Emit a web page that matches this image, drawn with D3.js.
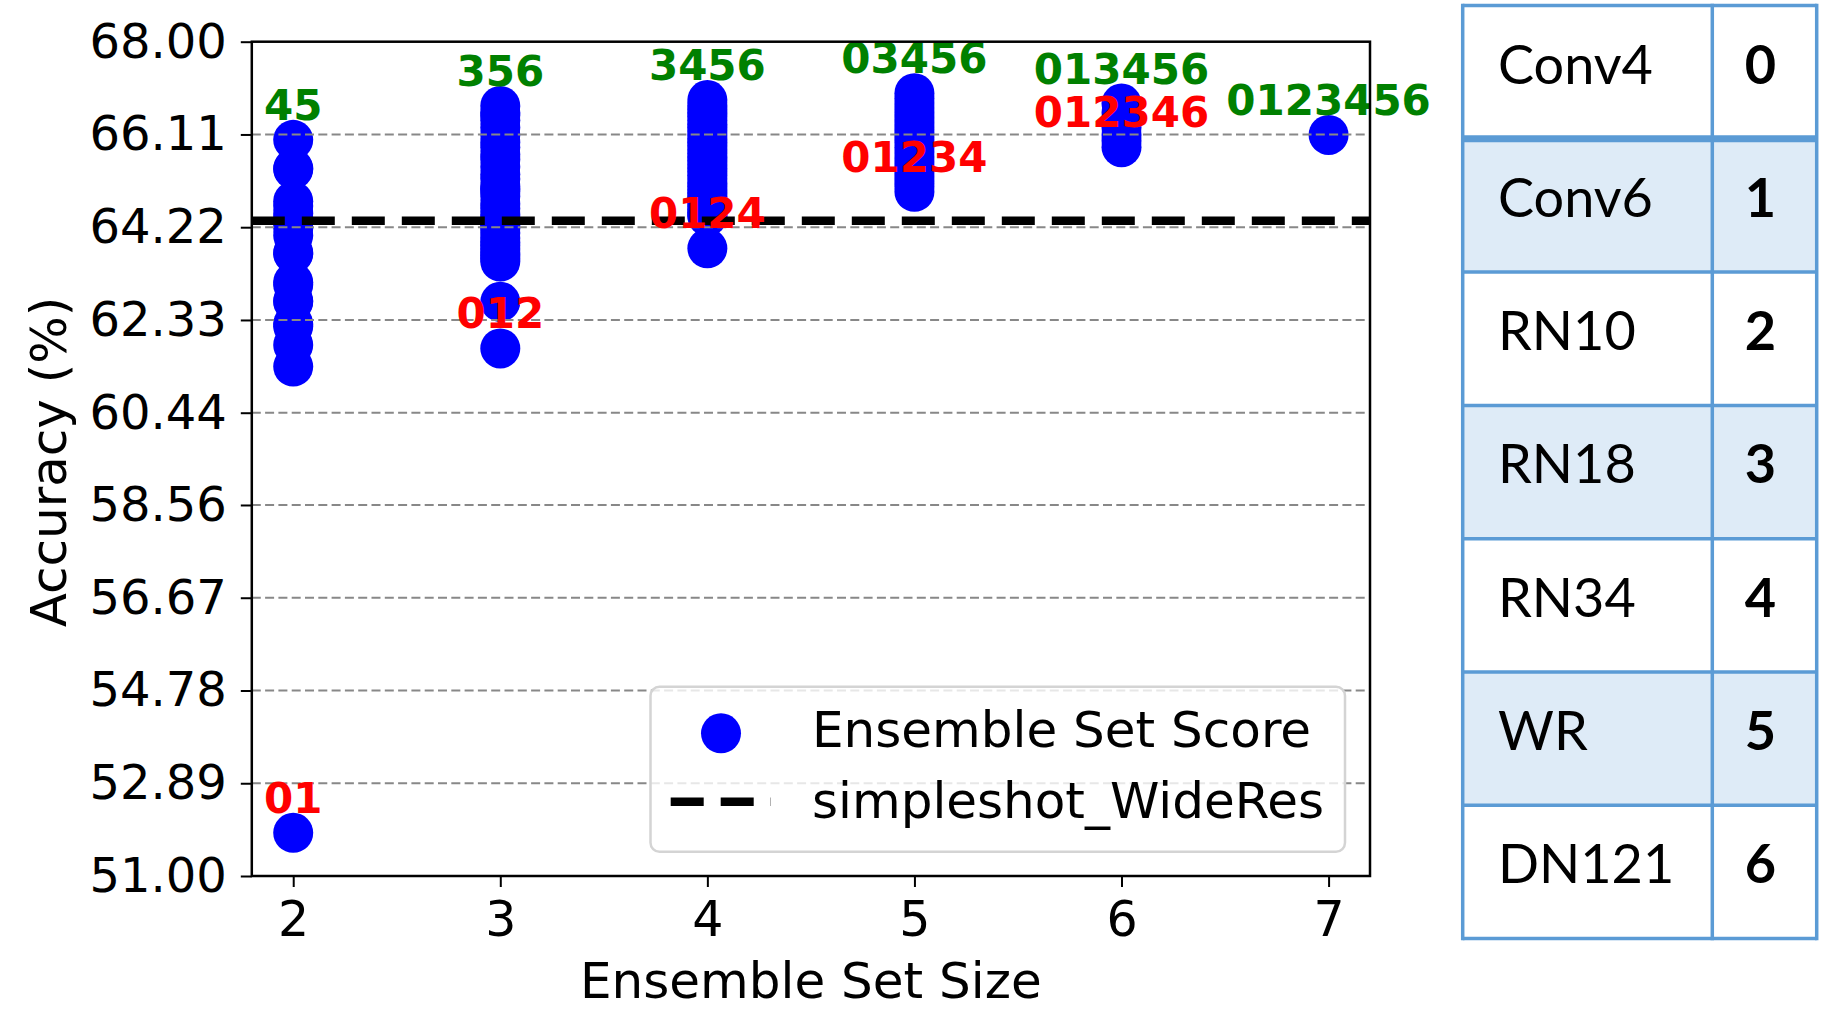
<!DOCTYPE html>
<html>
<head>
<meta charset="utf-8">
<script src="https://cdn.jsdelivr.net/npm/d3@7"></script>
<style>
  html, body { margin: 0; padding: 0; background: #fff; }
  svg { display: block; }
</style>
</head>
<body>
<svg id="chart" width="1833" height="1035"></svg>
<script>
// ---------------- data ----------------
const setSizes = [2, 3, 4, 5, 6, 7];
const scoresSize2 = [66.00, 65.42, 65.40, 64.75, 64.65, 64.50, 64.40, 64.30, 64.20, 64.05, 63.70,
                     63.68, 63.10, 63.05, 62.72, 62.70, 62.25, 62.20, 61.82, 61.38, 51.88];
const scoresSize3 = [66.69, 66.55, 66.50, 66.40, 66.25, 66.10, 65.95, 65.85, 65.70, 65.60, 65.45,
                     65.30, 65.20, 65.05, 65.00, 64.95, 64.85, 64.70, 64.60, 64.48, 64.40, 64.30,
                     64.25, 64.20, 64.10, 64.00, 63.92, 63.85, 63.78, 63.70, 63.65, 63.58, 63.52,
                     62.70, 61.75];
const scoresSize4 = [66.81, 66.70, 66.62, 66.55, 66.48, 66.40, 66.32, 66.25, 66.18, 66.10, 66.02,
                     65.95, 65.88, 65.80, 65.72, 65.65, 65.58, 65.50, 65.42, 65.35, 65.28, 65.20,
                     65.12, 65.05, 64.98, 64.92, 64.85, 64.78, 64.72, 64.65, 64.58, 64.52, 64.47,
                     64.44, 63.79];
const scoresSize5 = [66.95, 66.85, 66.75, 66.65, 66.55, 66.45, 66.35, 66.25, 66.15, 66.05, 65.95,
                     65.85, 65.75, 65.65, 65.55, 65.45, 65.35, 65.25, 65.15, 65.05, 64.94];
const scoresSize6 = [66.74, 66.55, 66.40, 66.25, 66.10, 65.98, 65.85];
const scoresSize7 = [66.10];
const bestLabels  = ["45", "356", "3456", "03456", "013456", "0123456"];
const worstLabels = ["01", "012", "0124", "01234", "012346", ""];
const baselineName = "simpleshot_WideRes";
const baselineValue = 64.35;
const yTickValues = [51.00, 52.89, 54.78, 56.67, 58.56, 60.44, 62.33, 64.22, 66.11, 68.00];
const xTickValues = [2, 3, 4, 5, 6, 7];
const modelNames = ["Conv4", "Conv6", "RN10", "RN18", "RN34", "WR", "DN121"];
const modelIds   = ["0", "1", "2", "3", "4", "5", "6"];

const allScores = [scoresSize2, scoresSize3, scoresSize4, scoresSize5, scoresSize6, scoresSize7];

// ---------------- layout ----------------
const svg = d3.select("#chart");
svg.append("rect").attr("width", 1833).attr("height", 1035).attr("fill", "#fff");

const L = 251.8, R = 1370, T = 41.7, B = 876;
const FONT = "'DejaVu Sans', sans-serif";

const x = d3.scaleLinear().domain([1.8, 7.2]).range([L, R]);
const y = d3.scaleLinear().domain([51, 68]).range([B, T]);

const points = [];
setSizes.forEach((s, i) => allScores[i].forEach(v => points.push({s, v})));

const clipId = "plotclip";
svg.append("clipPath").attr("id", clipId)
  .append("rect").attr("x", L).attr("y", T).attr("width", R - L).attr("height", B - T);

// dots
svg.append("g").selectAll("circle").data(points).enter().append("circle")
  .attr("cx", d => x(d.s)).attr("cy", d => y(d.v)).attr("r", 20)
  .attr("fill", "#0000ff");

// gridlines
svg.append("g").selectAll("line").data(yTickValues.slice(1, -1)).enter().append("line")
  .attr("x1", L).attr("x2", R).attr("y1", d => y(d)).attr("y2", d => y(d))
  .attr("stroke", "#888").attr("stroke-width", 2).attr("stroke-dasharray", "9,4.3");

// baseline dashed line
svg.append("line")
  .attr("clip-path", `url(#${clipId})`)
  .attr("x1", L).attr("x2", R).attr("y1", y(baselineValue)).attr("y2", y(baselineValue))
  .attr("stroke", "#000").attr("stroke-width", 8.5).attr("stroke-dasharray", "33,17");

// annotations
const ann = svg.append("g").attr("font-family", FONT).attr("font-weight", "bold")
  .attr("font-size", 42).attr("text-anchor", "middle");
setSizes.forEach((s, i) => {
  const vals = allScores[i];
  if (worstLabels[i]) {
    ann.append("text").attr("x", x(s)).attr("y", y(d3.min(vals)) - 20)
      .attr("fill", "#ff0000").text(worstLabels[i]);
  }
  ann.append("text").attr("x", x(s)).attr("y", y(d3.max(vals)) - 20)
    .attr("fill", "#008000").text(bestLabels[i]);
});

// axes
const yAxis = d3.axisLeft(y).tickValues(yTickValues).tickFormat(d3.format(".2f"))
  .tickSize(11).tickPadding(14);
const gy = svg.append("g").attr("transform", `translate(${L},0)`).call(yAxis);
gy.select(".domain").remove();
gy.selectAll(".tick line").attr("stroke", "#000").attr("stroke-width", 2);
gy.selectAll(".tick text").attr("font-family", FONT).attr("font-size", 48).attr("fill", "#000");

const xAxis = d3.axisBottom(x).tickValues(xTickValues).tickFormat(d3.format("d"))
  .tickSize(11).tickPadding(14);
const gx = svg.append("g").attr("transform", `translate(0,${B})`).call(xAxis);
gx.select(".domain").remove();
gx.selectAll(".tick line").attr("stroke", "#000").attr("stroke-width", 2);
gx.selectAll(".tick text").attr("font-family", FONT).attr("font-size", 49).attr("fill", "#000");

// frame
svg.append("rect").attr("x", L).attr("y", T).attr("width", R - L).attr("height", B - T)
  .attr("fill", "none").attr("stroke", "#000").attr("stroke-width", 2.5);

// axis labels
svg.append("text").attr("x", (L + R) / 2).attr("y", 998)
  .attr("text-anchor", "middle").attr("font-family", FONT).attr("font-size", 50)
  .text("Ensemble Set Size");
svg.append("text").attr("transform", `translate(66,462) rotate(-90)`)
  .attr("text-anchor", "middle").attr("font-family", FONT).attr("font-size", 50)
  .text("Accuracy (%)");

// legend
const lg = svg.append("g");
lg.append("rect").attr("x", 650.5).attr("y", 686.7).attr("width", 694.5).attr("height", 165)
  .attr("rx", 9).attr("fill", "#fff").attr("fill-opacity", 0.8)
  .attr("stroke", "#d4d4d4").attr("stroke-width", 2.5);
lg.append("circle").attr("cx", 721).attr("cy", 733.3).attr("r", 20).attr("fill", "#0000ff");
lg.append("line").attr("x1", 670.7).attr("x2", 771).attr("y1", 801.7).attr("y2", 801.7)
  .attr("stroke", "#000").attr("stroke-width", 8.5).attr("stroke-dasharray", "33,17");
lg.append("text").attr("x", 812).attr("y", 746.7).attr("font-family", FONT).attr("font-size", 50)
  .text("Ensemble Set Score");
lg.append("text").attr("x", 812).attr("y", 818).attr("font-family", FONT).attr("font-size", 50)
  .text(baselineName);

// ---------------- table ----------------
const TX0 = 1462.7, TX1 = 1712.3, TX2 = 1816.7, TY0 = 5.5, RH = 133.3;
const tbl = svg.append("g");
const rowY = d3.scaleLinear().domain([0, modelNames.length]).range([TY0, TY0 + RH * modelNames.length]);
modelNames.forEach((name, i) => {
  tbl.append("rect").attr("x", TX0).attr("y", rowY(i)).attr("width", TX2 - TX0).attr("height", RH)
    .attr("fill", i % 2 === 1 ? "#deebf7" : "#ffffff");
});
const BLUE = "#5b9bd5";
d3.range(modelNames.length + 1).forEach(i => {
  tbl.append("line").attr("x1", TX0).attr("x2", TX2).attr("y1", rowY(i)).attr("y2", rowY(i))
    .attr("stroke", BLUE).attr("stroke-width", i === 1 ? 7 : 3.5);
});
[TX0, TX1, TX2].forEach(xx => {
  tbl.append("line").attr("x1", xx).attr("x2", xx).attr("y1", rowY(0) - 1.75).attr("y2", rowY(modelNames.length) + 1.75)
    .attr("stroke", BLUE).attr("stroke-width", 3.5);
});
modelNames.forEach((name, i) => {
  tbl.append("text").attr("x", 1498).attr("y", rowY(i) + 78)
    .attr("font-family", "Lato, 'Open Sans', sans-serif").attr("font-size", 54).attr("fill", "#000")
    .text(name);
  tbl.append("text").attr("x", 1760.5).attr("y", rowY(i) + 78).attr("text-anchor", "middle")
    .attr("font-family", "Lato, 'Open Sans', sans-serif").attr("font-weight", "bold")
    .attr("font-size", 54).attr("fill", "#000").text(modelIds[i]);
});
</script>
</body>
</html>
